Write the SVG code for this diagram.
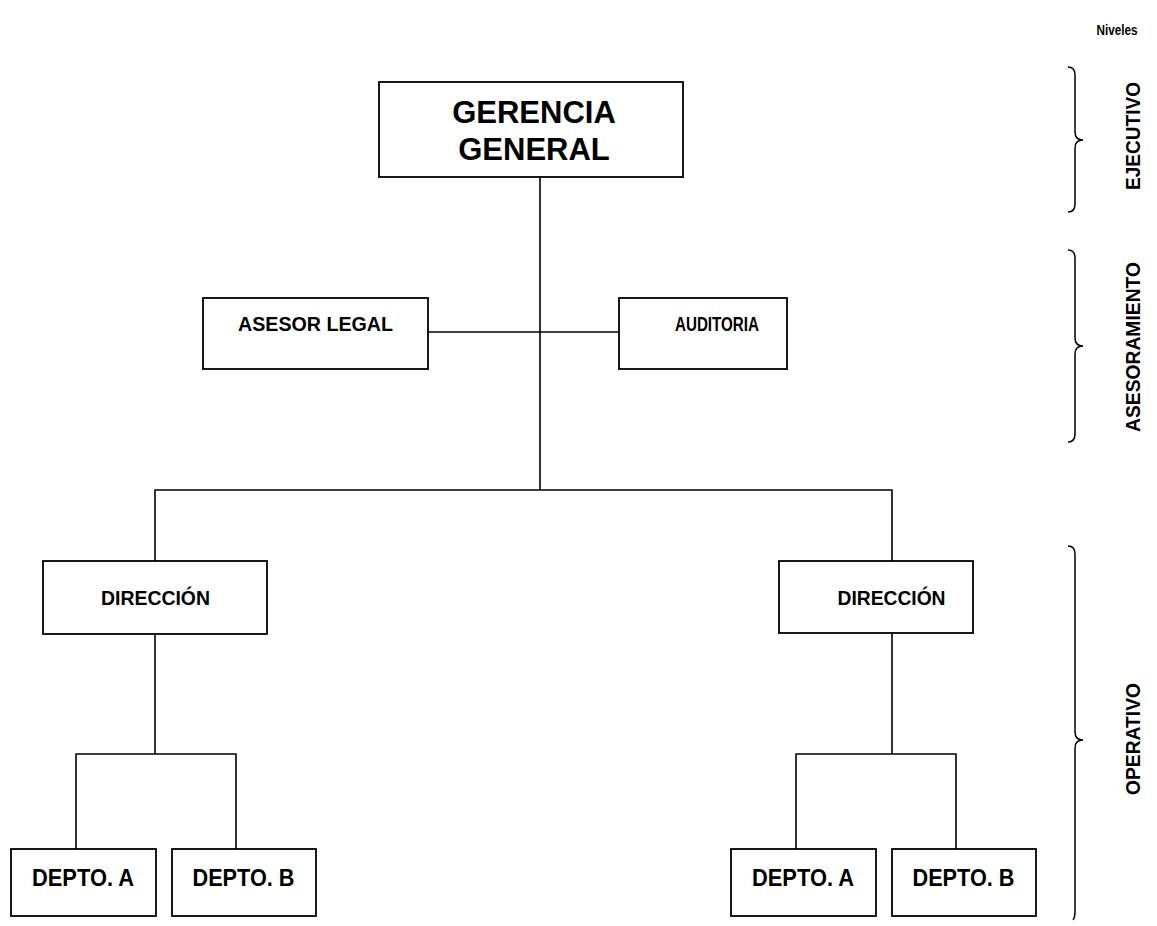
<svg xmlns="http://www.w3.org/2000/svg" width="1157" height="926" viewBox="0 0 1157 926">
  <style>
    .box { fill: #fff; stroke: #000; stroke-width: 1.8; }
    .line { fill: none; stroke: #000; stroke-width: 1.6; }
    .brace { fill: none; stroke: #000; stroke-width: 1.5; }
    text { font-family: "Liberation Sans", Arial, sans-serif; font-weight: bold; fill: #000; text-anchor: middle; }
    .big { font-size: 31px; }
    .mid { font-size: 21px; }
    .dep { font-size: 23px; }
    .lvl { font-size: 21px; }
    .hdr { font-size: 15px; }
  </style>
  <rect width="1157" height="926" fill="#fff"/>

  <!-- connectors -->
  <g id="connectors">
    <path class="line" d="M540,177 V490"/>
    <path class="line" d="M428,332 H619"/>
    <path class="line" d="M155,561 V490 H892 V561"/>
    <path class="line" d="M155,634 V754"/>
    <path class="line" d="M76,849 V754 H236 V849"/>
    <path class="line" d="M892,633 V754"/>
    <path class="line" d="M796,849 V754 H956 V849"/>
  </g>

  <g id="gerencia-general">
    <rect class="box" x="379" y="82" width="304" height="95"/>
    <text class="big" x="534" y="123">GERENCIA</text>
    <text class="big" x="534" y="160">GENERAL</text>
  </g>
  <g id="asesor-legal">
    <rect class="box" x="203" y="298" width="225" height="71"/>
    <text class="mid" x="315.5" y="331" textLength="155" lengthAdjust="spacingAndGlyphs">ASESOR LEGAL</text>
  </g>
  <g id="auditoria">
    <rect class="box" x="619" y="298" width="168" height="71"/>
    <text class="mid" x="717" y="331" textLength="84" lengthAdjust="spacingAndGlyphs">AUDITORIA</text>
  </g>
  <g id="direccion-izq">
    <rect class="box" x="43" y="561" width="224" height="73"/>
    <text class="mid" x="155.5" y="605" textLength="109" lengthAdjust="spacingAndGlyphs">DIRECCIÓN</text>
  </g>
  <g id="direccion-der">
    <rect class="box" x="779" y="561" width="194" height="72"/>
    <text class="mid" x="891.5" y="605" textLength="108" lengthAdjust="spacingAndGlyphs">DIRECCIÓN</text>
  </g>
  <g id="depto-a-izq">
    <rect class="box" x="11" y="849" width="145" height="67"/>
    <text class="dep" x="83" y="886" textLength="102" lengthAdjust="spacingAndGlyphs">DEPTO. A</text>
  </g>
  <g id="depto-b-izq">
    <rect class="box" x="172" y="849" width="144" height="67"/>
    <text class="dep" x="243.5" y="886" textLength="102" lengthAdjust="spacingAndGlyphs">DEPTO. B</text>
  </g>
  <g id="depto-a-der">
    <rect class="box" x="731" y="849" width="145" height="67"/>
    <text class="dep" x="803" y="886" textLength="102" lengthAdjust="spacingAndGlyphs">DEPTO. A</text>
  </g>
  <g id="depto-b-der">
    <rect class="box" x="892" y="849" width="144" height="67"/>
    <text class="dep" x="963.5" y="886" textLength="102" lengthAdjust="spacingAndGlyphs">DEPTO. B</text>
  </g>

  <!-- level braces and labels -->
  <g id="niveles">
    <text class="hdr" x="1117" y="35" textLength="41" lengthAdjust="spacingAndGlyphs">Niveles</text>
    <path class="brace" d="M1068,67 Q1075,67 1075,75 L1075,132 Q1075,140 1083,140 Q1075,140 1075,148 L1075,204 Q1075,212 1068,212"/>
    <text class="lvl" transform="translate(1140,136) rotate(-90)" textLength="108" lengthAdjust="spacingAndGlyphs">EJECUTIVO</text>
    <path class="brace" d="M1068,250 Q1075,250 1075,258 L1075,338 Q1075,346 1083,346 Q1075,346 1075,354 L1075,434 Q1075,442 1068,442"/>
    <text class="lvl" transform="translate(1140,347) rotate(-90)" textLength="170" lengthAdjust="spacingAndGlyphs">ASESORAMIENTO</text>
    <path class="brace" d="M1068,546 Q1075,546 1075,554 L1075,732 Q1075,740 1083,740 Q1075,740 1075,748 L1075,910 Q1075,918 1073,920"/>
    <text class="lvl" transform="translate(1140,739) rotate(-90)" textLength="112" lengthAdjust="spacingAndGlyphs">OPERATIVO</text>
  </g>
</svg>
